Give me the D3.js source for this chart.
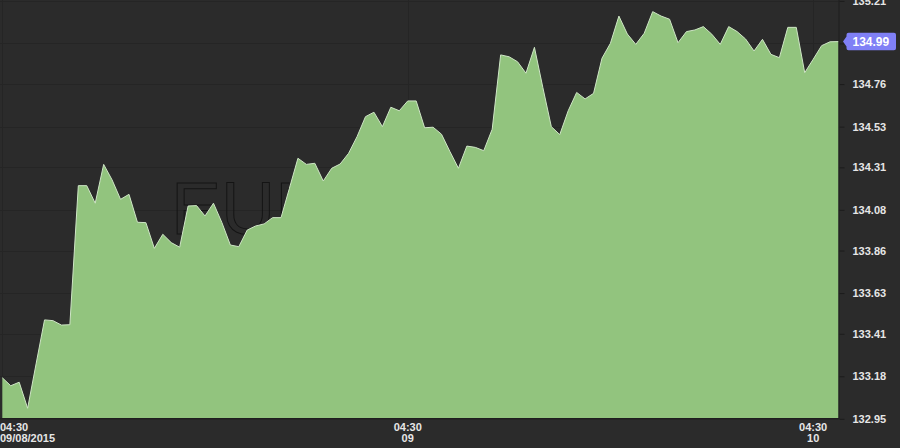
<!DOCTYPE html>
<html>
<head>
<meta charset="utf-8">
<script src="https://cdn.jsdelivr.net/npm/d3@7/dist/d3.min.js"></script>
<style>
  html, body { margin: 0; padding: 0; background: #2b2b2b; }
  svg { display: block; }
</style>
</head>
<body>
<svg id="chart" width="900" height="448"></svg>
<script>
// ---- data ----
const symbol = "EURJPY";
const startTime = new Date(2015, 8, 8, 4, 30); // 09/08/2015 04:30
const stepMinutes = 30;
const prices = [
  133.172, 133.129, 133.148, 133.007, 133.247, 133.485, 133.481, 133.457, 133.459, 134.211,
  134.211, 134.116, 134.326, 134.242, 134.137, 134.164, 134.013, 134.011, 133.872, 133.948,
  133.903, 133.878, 134.101, 134.103, 134.047, 134.116, 134.011, 133.890, 133.881, 133.971,
  133.993, 134.004, 134.038, 134.038, 134.198, 134.359, 134.326, 134.332, 134.236, 134.305,
  134.328, 134.386, 134.476, 134.584, 134.608, 134.530, 134.635, 134.616, 134.669, 134.669,
  134.524, 134.527, 134.489, 134.395, 134.305, 134.425, 134.418, 134.400, 134.516, 134.918,
  134.908, 134.881, 134.819, 134.959, 134.741, 134.530, 134.487, 134.616, 134.715, 134.680,
  134.710, 134.900, 134.981, 135.128, 135.031, 134.975, 135.035, 135.152, 135.128, 135.111,
  134.984, 135.044, 135.053, 135.071, 135.030, 134.975, 135.071, 135.044, 135.004, 134.939,
  135.002, 134.921, 134.903, 135.067, 135.067, 134.822, 134.894, 134.968, 134.989, 134.990
];
const yTicks = [132.95, 133.18, 133.41, 133.63, 133.86, 134.08, 134.31, 134.53, 134.76, 134.98, 135.21];
const yDomain = [132.9545, 135.2095];
const xTickTimes = [new Date(2015, 8, 8, 4, 30), new Date(2015, 8, 9, 4, 30), new Date(2015, 8, 10, 4, 30)];
const xTickLines = [["04:30", "09/08/2015"], ["04:30", "09"], ["04:30", "10"]];
const lastLabel = "134.99";

// ---- build ----
const data = prices.map((p, i) => ({ t: d3.timeMinute.offset(startTime, i * stepMinutes), p }));
const svg = d3.select("#chart");
const W = 900, H = 448;
const plot = { left: 2.3, right: 838.5, top: 1, bottom: 418 };

svg.append("rect").attr("width", W).attr("height", H).attr("fill", "#2b2b2b");

const x = d3.scaleTime().domain(d3.extent(data, d => d.t)).range([plot.left, plot.right]);
const y = d3.scaleLinear().domain(yDomain).range([plot.bottom, plot.top]);

const lastPrice = prices[prices.length - 1];
const ly = y(lastPrice);

// grid
const grid = svg.append("g").attr("stroke", "#252525").attr("stroke-width", 1);
grid.selectAll("line.h").data(yTicks).join("line")
  .attr("x1", 0).attr("x2", plot.right)
  .attr("y1", d => Math.round(y(d)) + 0.5).attr("y2", d => Math.round(y(d)) + 0.5);
grid.selectAll("line.v").data(xTickTimes).join("line")
  .attr("x1", d => Math.round(x(d)) + 0.5).attr("x2", d => Math.round(x(d)) + 0.5)
  .attr("y1", 0).attr("y2", plot.bottom);

// watermark
svg.append("text")
  .attr("x", 171).attr("y", 234)
  .attr("font-family", "'Liberation Sans', Arial, sans-serif")
  .attr("font-size", 75)
  .attr("fill", "none")
  .attr("stroke", "#141414")
  .attr("stroke-width", 1)
  .text(symbol);

// area
const area = d3.area().x(d => x(d.t)).y0(plot.bottom).y1(d => y(d.p));
svg.append("path").datum(data).attr("d", area).attr("fill", "#92c47e");
const line = d3.line().x(d => x(d.t)).y(d => y(d.p));
svg.append("path").datum(data).attr("d", line)
  .attr("fill", "none").attr("stroke", "#cfe6c6").attr("stroke-width", 1);

// right edge / bottom edge
svg.append("line").attr("x1", plot.right + 0.5).attr("x2", plot.right + 0.5)
  .attr("y1", 0).attr("y2", plot.bottom).attr("stroke", "#1f1f1f");
svg.append("line").attr("x1", 0).attr("x2", plot.right + 1)
  .attr("y1", plot.bottom + 0.5).attr("y2", plot.bottom + 0.5).attr("stroke", "#1f1f1f");

// y axis (the tick label under the last-price flag is covered in the reference)
const yAxis = d3.axisRight(y).tickValues(yTicks)
  .tickFormat(d => Math.abs(y(d) - ly) < 9 ? "" : d.toFixed(2))
  .tickSize(5).tickPadding(8);
const ya = svg.append("g").attr("transform", `translate(${plot.right + 1},0)`).call(yAxis);
ya.select(".domain").remove();
ya.selectAll(".tick line").attr("stroke", "#1c1c1c");
ya.selectAll(".tick text")
  .attr("fill", "#e6e6e6")
  .attr("font-family", "'Liberation Sans', Arial, sans-serif")
  .attr("font-size", 11).attr("font-weight", "bold");

// x axis labels
const xl = svg.append("g")
  .attr("font-family", "'Liberation Sans', Arial, sans-serif")
  .attr("font-size", 11).attr("font-weight", "bold").attr("fill", "#e6e6e6");
xTickTimes.forEach((t, i) => {
  const first = i === 0;
  const tx = first ? 0 : x(t);
  const txt = xl.append("text")
    .attr("text-anchor", first ? "start" : "middle");
  xTickLines[i].forEach((s, j) => {
    txt.append("tspan").attr("x", tx).attr("y", 431 + j * 11).text(s);
  });
});

// last price label
const bx = 846.5, bw = 49.5, bh = 17.5;
svg.append("path")
  .attr("d", `M${bx - 3.5},${ly} L${bx},${ly - 5} L${bx},${ly - bh / 2 + 2} Q${bx},${ly - bh / 2} ${bx + 2},${ly - bh / 2}
    L${bx + bw - 2},${ly - bh / 2} Q${bx + bw},${ly - bh / 2} ${bx + bw},${ly - bh / 2 + 2}
    L${bx + bw},${ly + bh / 2 - 2} Q${bx + bw},${ly + bh / 2} ${bx + bw - 2},${ly + bh / 2}
    L${bx + 2},${ly + bh / 2} Q${bx},${ly + bh / 2} ${bx},${ly + bh / 2 - 2} L${bx},${ly + 5} Z`)
  .attr("fill", "#8080f6");
svg.append("text")
  .attr("x", 852.5).attr("y", ly + 4.5)
  .attr("font-family", "'Liberation Sans', Arial, sans-serif")
  .attr("font-size", 12).attr("font-weight", "bold").attr("fill", "#ffffff")
  .text(lastLabel);
</script>
</body>
</html>
